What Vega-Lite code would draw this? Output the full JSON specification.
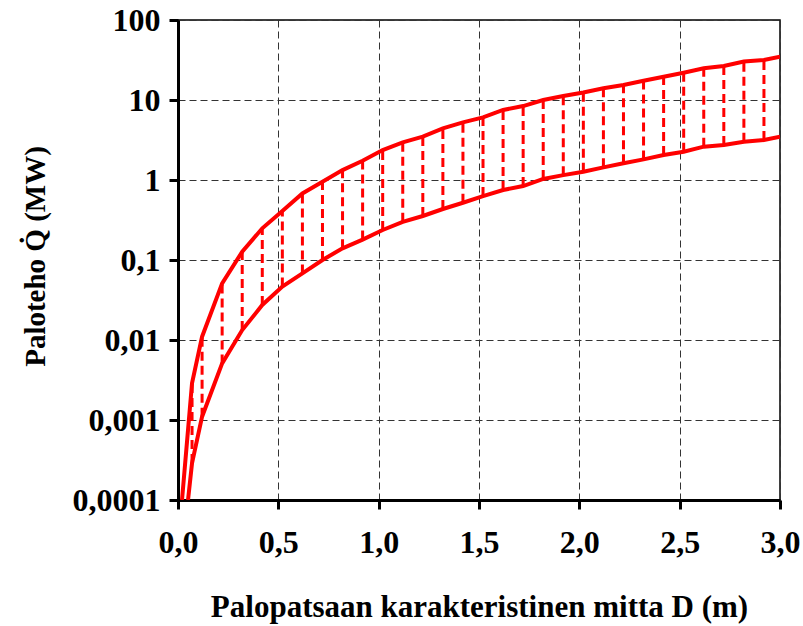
{
  "$schema": "https://vega.github.io/schema/vega-lite/v6.json",
  "width": 602,
  "height": 480,
  "autosize": "none",
  "padding": {"left": 178, "top": 20, "right": 23, "bottom": 126},
  "background": "white",
  "config": {
    "view": {"stroke": "black", "strokeWidth": 1.5},
    "font": "Liberation Serif",
    "axis": {
      "labelFont": "Liberation Serif",
      "labelFontWeight": "bold",
      "labelFontSize": 32,
      "labelColor": "black",
      "labelFlush": false,
      "titleFont": "Liberation Serif",
      "titleFontWeight": "bold",
      "titleFontSize": 29,
      "titleColor": "black",
      "domainColor": "black",
      "domainWidth": 3,
      "ticks": true,
      "tickColor": "black",
      "tickWidth": 3,
      "tickSize": 9,
      "grid": true,
      "gridColor": "#333333",
      "gridDash": [7, 4],
      "gridWidth": 1,
      "gridOpacity": 1
    }
  },
  "datasets": {
    "curves": [
      {"D": 0.02, "Q": 0.0001, "k": "upper"},
      {"D": 0.07, "Q": 0.0029, "k": "upper"},
      {"D": 0.12, "Q": 0.011, "k": "upper"},
      {"D": 0.22, "Q": 0.051, "k": "upper"},
      {"D": 0.32, "Q": 0.127, "k": "upper"},
      {"D": 0.42, "Q": 0.249, "k": "upper"},
      {"D": 0.52, "Q": 0.41, "k": "upper"},
      {"D": 0.62, "Q": 0.68, "k": "upper"},
      {"D": 0.72, "Q": 0.95, "k": "upper"},
      {"D": 0.82, "Q": 1.33, "k": "upper"},
      {"D": 0.92, "Q": 1.74, "k": "upper"},
      {"D": 1.02, "Q": 2.37, "k": "upper"},
      {"D": 1.12, "Q": 2.96, "k": "upper"},
      {"D": 1.22, "Q": 3.48, "k": "upper"},
      {"D": 1.32, "Q": 4.43, "k": "upper"},
      {"D": 1.42, "Q": 5.26, "k": "upper"},
      {"D": 1.52, "Q": 6.07, "k": "upper"},
      {"D": 1.62, "Q": 7.5, "k": "upper"},
      {"D": 1.72, "Q": 8.4, "k": "upper"},
      {"D": 1.82, "Q": 10.0, "k": "upper"},
      {"D": 1.92, "Q": 11.2, "k": "upper"},
      {"D": 2.02, "Q": 12.4, "k": "upper"},
      {"D": 2.12, "Q": 14.0, "k": "upper"},
      {"D": 2.22, "Q": 15.4, "k": "upper"},
      {"D": 2.32, "Q": 17.4, "k": "upper"},
      {"D": 2.42, "Q": 19.5, "k": "upper"},
      {"D": 2.52, "Q": 21.9, "k": "upper"},
      {"D": 2.62, "Q": 24.9, "k": "upper"},
      {"D": 2.72, "Q": 26.6, "k": "upper"},
      {"D": 2.82, "Q": 30.2, "k": "upper"},
      {"D": 2.92, "Q": 31.6, "k": "upper"},
      {"D": 3.0, "Q": 34.8, "k": "upper"},
      {"D": 0.05, "Q": 0.0001, "k": "lower"},
      {"D": 0.07, "Q": 0.00029, "k": "lower"},
      {"D": 0.12, "Q": 0.0011, "k": "lower"},
      {"D": 0.22, "Q": 0.0051, "k": "lower"},
      {"D": 0.32, "Q": 0.0133, "k": "lower"},
      {"D": 0.42, "Q": 0.0274, "k": "lower"},
      {"D": 0.52, "Q": 0.0466, "k": "lower"},
      {"D": 0.62, "Q": 0.068, "k": "lower"},
      {"D": 0.72, "Q": 0.1, "k": "lower"},
      {"D": 0.82, "Q": 0.14, "k": "lower"},
      {"D": 0.92, "Q": 0.18, "k": "lower"},
      {"D": 1.02, "Q": 0.237, "k": "lower"},
      {"D": 1.12, "Q": 0.3, "k": "lower"},
      {"D": 1.22, "Q": 0.355, "k": "lower"},
      {"D": 1.32, "Q": 0.434, "k": "lower"},
      {"D": 1.42, "Q": 0.52, "k": "lower"},
      {"D": 1.52, "Q": 0.63, "k": "lower"},
      {"D": 1.62, "Q": 0.75, "k": "lower"},
      {"D": 1.72, "Q": 0.84, "k": "lower"},
      {"D": 1.82, "Q": 1.03, "k": "lower"},
      {"D": 1.92, "Q": 1.15, "k": "lower"},
      {"D": 2.02, "Q": 1.27, "k": "lower"},
      {"D": 2.12, "Q": 1.44, "k": "lower"},
      {"D": 2.22, "Q": 1.62, "k": "lower"},
      {"D": 2.32, "Q": 1.81, "k": "lower"},
      {"D": 2.42, "Q": 2.05, "k": "lower"},
      {"D": 2.52, "Q": 2.26, "k": "lower"},
      {"D": 2.62, "Q": 2.61, "k": "lower"},
      {"D": 2.72, "Q": 2.74, "k": "lower"},
      {"D": 2.82, "Q": 3.01, "k": "lower"},
      {"D": 2.92, "Q": 3.16, "k": "lower"},
      {"D": 3.0, "Q": 3.47, "k": "lower"}
    ],
    "spans": [
      {"D": 0.07, "lo": 0.00029, "hi": 0.0029},
      {"D": 0.12, "lo": 0.0011, "hi": 0.011},
      {"D": 0.22, "lo": 0.0051, "hi": 0.051},
      {"D": 0.32, "lo": 0.0133, "hi": 0.127},
      {"D": 0.42, "lo": 0.0274, "hi": 0.249},
      {"D": 0.52, "lo": 0.0466, "hi": 0.41},
      {"D": 0.62, "lo": 0.068, "hi": 0.68},
      {"D": 0.72, "lo": 0.1, "hi": 0.95},
      {"D": 0.82, "lo": 0.14, "hi": 1.33},
      {"D": 0.92, "lo": 0.18, "hi": 1.74},
      {"D": 1.02, "lo": 0.237, "hi": 2.37},
      {"D": 1.12, "lo": 0.3, "hi": 2.96},
      {"D": 1.22, "lo": 0.355, "hi": 3.48},
      {"D": 1.32, "lo": 0.434, "hi": 4.43},
      {"D": 1.42, "lo": 0.52, "hi": 5.26},
      {"D": 1.52, "lo": 0.63, "hi": 6.07},
      {"D": 1.62, "lo": 0.75, "hi": 7.5},
      {"D": 1.72, "lo": 0.84, "hi": 8.4},
      {"D": 1.82, "lo": 1.03, "hi": 10.0},
      {"D": 1.92, "lo": 1.15, "hi": 11.2},
      {"D": 2.02, "lo": 1.27, "hi": 12.4},
      {"D": 2.12, "lo": 1.44, "hi": 14.0},
      {"D": 2.22, "lo": 1.62, "hi": 15.4},
      {"D": 2.32, "lo": 1.81, "hi": 17.4},
      {"D": 2.42, "lo": 2.05, "hi": 19.5},
      {"D": 2.52, "lo": 2.26, "hi": 21.9},
      {"D": 2.62, "lo": 2.61, "hi": 24.9},
      {"D": 2.72, "lo": 2.74, "hi": 26.6},
      {"D": 2.82, "lo": 3.01, "hi": 30.2},
      {"D": 2.92, "lo": 3.16, "hi": 31.6}
    ]
  },
  "layer": [
    {
      "data": {"name": "spans"},
      "mark": {"type": "rule", "color": "#ff0000", "strokeWidth": 3, "strokeDash": [9, 5]},
      "encoding": {
        "x": {
          "field": "D", "type": "quantitative",
          "scale": {"domain": [0, 3], "nice": false, "zero": false},
          "axis": {
            "values": [0, 0.5, 1, 1.5, 2, 2.5, 3],
            "labelExpr": "replace(format(datum.value, '.1f'), '.', ',')",
            "labelPadding": 18,
            "title": "Palopatsaan karakteristinen mitta D  (m)",
            "titleFontSize": 31,
            "titleBaseline": "middle",
            "titleY": 107
          }
        },
        "y": {
          "field": "lo", "type": "quantitative",
          "scale": {"type": "log", "domain": [0.0001, 100], "nice": false},
          "axis": {
            "values": [0.0001, 0.001, 0.01, 0.1, 1, 10, 100],
            "labelExpr": "replace(format(datum.value, '~g'), '.', ',')",
            "labelPadding": 9,
            "title": "Paloteho  Q̇ (MW)",
            "titleAngle": 270,
            "titleBaseline": "middle",
            "titleAlign": "center",
            "titleX": -143,
            "titleY": 236
          }
        },
        "y2": {"field": "hi"}
      }
    },
    {
      "data": {"name": "curves"},
      "mark": {"type": "line", "color": "#ff0000", "strokeWidth": 4, "clip": true},
      "encoding": {
        "x": {"field": "D", "type": "quantitative"},
        "y": {"field": "Q", "type": "quantitative"},
        "detail": {"field": "k"}
      }
    }
  ]
}
